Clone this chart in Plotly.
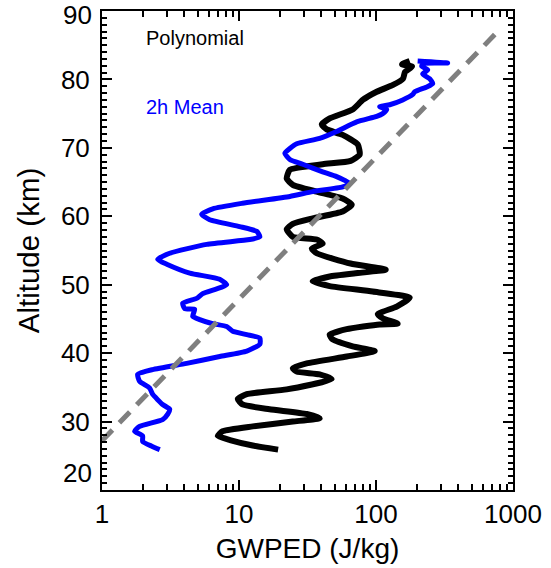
import plotly.graph_objects as go

# Polynomial (black) profile: altitude (km) and GWPED (J/kg)
poly_alt = [25.9, 26.5, 27.3, 27.9, 28.6, 29.3, 30.0, 30.5, 31.1, 31.8, 32.5, 33.3, 34.0, 34.7,
            36.2, 36.9, 37.3, 37.8, 38.5, 39.5, 40.3, 41.0, 42.0, 42.7, 43.5, 44.2, 44.3, 45.1,
            45.7, 46.8, 48.1, 49.0, 49.8, 50.5, 51.2, 51.7, 52.2, 53.1, 54.6, 55.3, 56.0, 56.6,
            57.0, 58.1, 58.9, 59.7, 60.7, 61.7, 62.6, 63.6, 64.6, 65.5, 66.8, 67.6, 68.1, 69.0,
            70.5, 71.9, 72.7, 73.4, 74.3, 75.6, 77.0, 78.2, 79.2, 80.1, 81.1, 81.9, 82.2, 82.7]
poly_e = [19.3, 12.6, 8.6, 7.0, 7.6, 12.6, 24.7, 38.8, 31.2, 16.7, 10.6, 9.8, 11.4, 22.3,
          47.4, 38.8, 26.4, 24.7, 31.2, 61.1, 97.9, 67.6, 48.3, 45.9, 61.1, 106.4, 143.9, 111.9,
          103.0, 141.6, 176.2, 94.6, 45.9, 34.5, 45.9, 73.6, 117.8, 65.3, 36.9, 34.0, 40.8, 36.9,
          24.7, 22.3, 24.7, 34.5, 57.1, 66.5, 57.1, 36.9, 24.7, 22.3, 23.5, 40.8, 65.3, 76.0,
          73.6, 57.1, 43.7, 40.2, 45.9, 67.6, 80.0, 101.2, 133.1, 157.4, 162.9, 183.3, 155.0, 176.2]

# 2h Mean (blue) profile
mean_alt = [25.9, 26.4, 27.1, 27.9, 28.6, 29.3, 30.3, 31.1, 31.8, 32.5, 34.0, 34.9, 35.9, 36.9,
            37.6, 38.5, 39.5, 40.3, 41.3, 42.2, 42.7, 43.2, 43.9, 44.3, 44.9, 45.4, 46.4, 46.5,
            47.3, 48.0, 48.7, 50.0, 50.8, 51.7, 53.0, 53.7, 54.6, 55.9, 56.6, 57.0, 57.8, 58.5,
            59.5, 60.3, 61.1, 61.9, 62.9, 63.6, 64.3, 64.8, 65.8, 66.5, 67.6, 68.3, 69.2, 69.9,
            70.6, 71.4, 72.4, 73.8, 74.6, 75.0, 75.6, 76.0, 76.3, 77.0, 77.8, 78.2, 78.9, 79.4,
            80.1, 80.8, 81.4, 81.9, 82.3, 82.4, 82.7]
mean_e = [2.64, 2.31, 1.98, 1.98, 1.73, 1.88, 2.77, 3.02, 3.12, 2.77, 2.34, 2.23, 1.88, 1.82,
          2.34, 4.15, 7.23, 11.4, 14.2, 14.2, 11.4, 9.0, 8.13, 6.43, 5.17, 4.59, 4.75, 4.02,
          3.88, 4.91, 5.43, 8.13, 7.23, 4.37, 2.97, 2.55, 3.12, 5.81, 11.97, 14.2, 13.47, 10.1,
          6.11, 5.34, 6.43, 10.6, 23.5, 34.5, 57.1, 64.3, 51.6, 40.8, 29.2, 23.5, 21.6, 23.5,
          26.4, 38.8, 51.6, 72.3, 101.2, 111.9, 119.7, 106.4, 125.9, 156.6, 185.4, 191.8, 234.6, 259.4,
          246.6, 219.1, 238.5, 215.7, 219.1, 333.6, 201.4]

# Reference (dashed) line
ref_e = [1.0, 800.0]
ref_alt = [27.2, 87.3]

x_tickvals = [1, 10, 100, 1000]
x_ticktext = ["1", "10", "100", "1000"]
y_tickvals = [20, 30, 40, 50, 60, 70, 80, 90]
y_ticktext = ["", "30", "40", "50", "60", "70", "80", ""]
# the end labels of the y axis are nudged inward, as in the original
y_end_labels = ["20", "90"]

FONT = "Liberation Sans, Arial, sans-serif"

fig = go.Figure()
fig.add_trace(go.Scatter(x=poly_e, y=poly_alt, mode="lines",
                         line=dict(color="black", width=6, shape="spline", smoothing=0.5),
                         showlegend=False, hoverinfo="skip"))
fig.add_trace(go.Scatter(x=mean_e, y=mean_alt, mode="lines",
                         line=dict(color="#0000ff", width=5, shape="spline", smoothing=0.5),
                         showlegend=False, hoverinfo="skip"))
fig.add_trace(go.Scatter(x=ref_e, y=ref_alt, mode="lines",
                         line=dict(color="#7f7f7f", width=5, dash="15px,10px"),
                         showlegend=False, hoverinfo="skip"))

fig.add_annotation(text="Polynomial", xref="paper", yref="paper", x=0.102, y=0.944,
                   xanchor="left", yanchor="middle", showarrow=False,
                   font=dict(family=FONT, size=20, color="black"))
fig.add_annotation(text="2h Mean", xref="paper", yref="paper", x=0.102, y=0.80,
                   xanchor="left", yanchor="middle", showarrow=False,
                   font=dict(family=FONT, size=20, color="#0000ff"))

for lab, ypos in zip(y_end_labels, [0.0355, 0.9916]):
    fig.add_annotation(text=lab, xref="paper", yref="paper", x=0, y=ypos,
                       xanchor="right", yanchor="middle", xshift=-8, showarrow=False,
                       font=dict(family=FONT, size=26, color="black"))

fig.update_xaxes(type="log", range=[0, 3], tickvals=x_tickvals, ticktext=x_ticktext,
                 automargin=False,
                 ticks="inside", ticklen=10, tickwidth=1.5, tickcolor="black",
                 showline=True, linecolor="black", linewidth=2, mirror="allticks",
                 showgrid=False, zeroline=False,
                 minor=dict(ticks="inside", ticklen=6, tickwidth=1.5, tickcolor="black", dtick="D1", showgrid=False),
                 tickfont=dict(family=FONT, size=26, color="black"),
                 title=dict(text="GWPED (J/kg)", font=dict(family=FONT, size=28, color="black"), standoff=10))
fig.update_yaxes(range=[20, 90], tickvals=y_tickvals, ticktext=y_ticktext,
                 automargin=False,
                 ticks="inside", ticklen=10, tickwidth=1.5, tickcolor="black",
                 showline=True, linecolor="black", linewidth=2, mirror="allticks",
                 showgrid=False, zeroline=False, ticklabelstandoff=5,
                 minor=dict(ticks="inside", ticklen=5, tickwidth=1.5, tickcolor="black", dtick=1, showgrid=False),
                 tickfont=dict(family=FONT, size=26, color="black"),
                 title=dict(text="Altitude (km)", font=dict(family=FONT, size=29.5, color="black"), standoff=13))

fig.update_layout(width=551, height=568, margin=dict(l=102, r=38, t=11, b=78),
                  paper_bgcolor="white", plot_bgcolor="white")

fig.write_html("out.html", config={"displayModeBar": False},
               post_script="document.body.style.margin='0px';")
